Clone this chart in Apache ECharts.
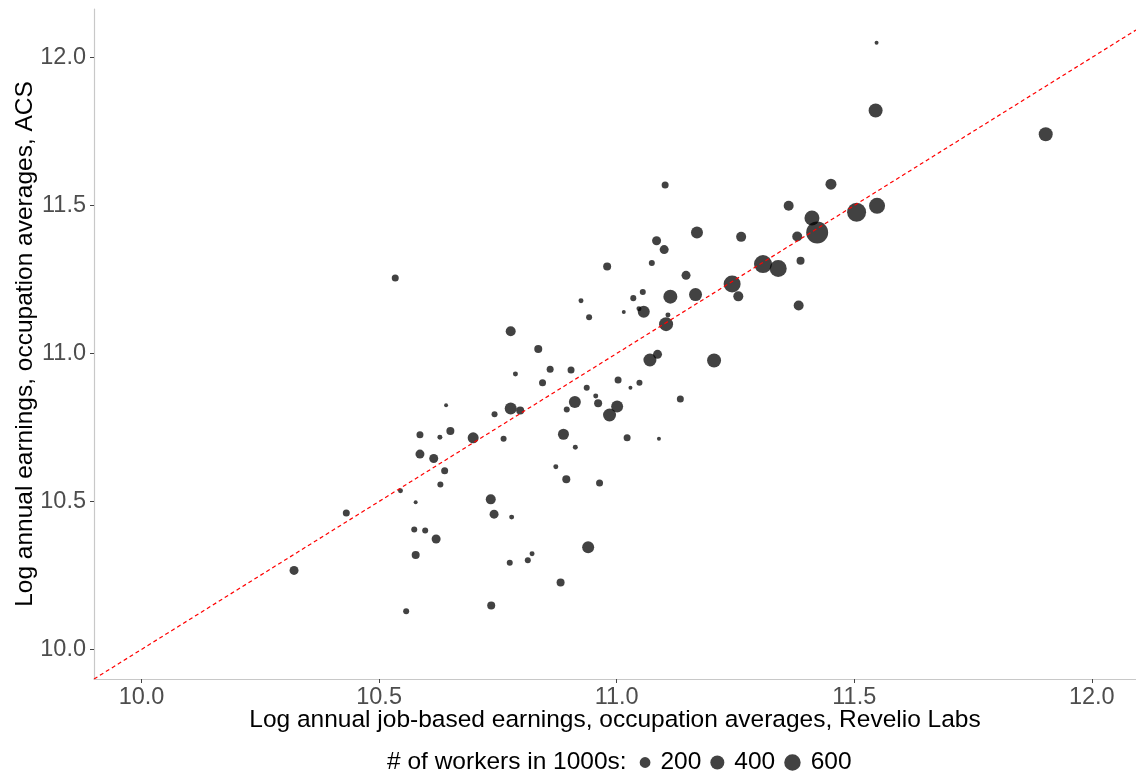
<!DOCTYPE html>
<html>
<head>
<meta charset="utf-8">
<script src="https://cdn.jsdelivr.net/npm/echarts@6/dist/echarts.min.js"></script>
<style>
html,body{margin:0;padding:0;background:#fff;}
#chart{width:1136px;height:777px;}
</style>
</head>
<body>
<div id="chart"></div>
<script>
// Revelio Labs (x), ACS (y), workers in 1000s (size)
const revelio = [11.547,11.545,11.903,11.451,11.362,11.548,11.505,11.411,11.422,11.380,
  11.102,11.169,11.262,11.084,11.100,10.980,11.074,11.387,11.308,11.340,
  11.146,11.243,11.256,11.166,11.113,11.383,11.055,11.035,11.015,11.057,
  11.047,11.108,11.104,10.777,10.835,10.942,10.925,10.787,10.860,10.904,
  10.844,10.937,11.003,10.956,10.961,10.912,10.895,11.001,10.985,10.641,
  10.777,10.797,10.743,10.586,10.628,10.650,10.698,10.762,10.888,11.022,
  10.913,10.586,10.615,10.872,11.086,11.070,11.205,11.048,11.029,11.134,
  11.089,10.534,10.638,10.629,10.545,10.577,10.735,10.742,10.779,10.431,
  10.574,10.597,10.620,10.577,10.822,10.813,10.775,10.321,10.736,10.557,
  10.894,10.964,10.940,10.882];
const acs = [12.050,11.821,11.741,11.572,11.499,11.499,11.477,11.458,11.409,11.395,
  11.569,11.409,11.394,11.381,11.351,11.294,11.306,11.313,11.302,11.287,
  11.264,11.235,11.193,11.199,11.192,11.162,11.208,11.187,11.140,11.141,
  11.151,11.130,11.099,11.075,11.015,11.122,11.178,10.931,10.947,10.944,
  10.901,10.884,10.910,10.856,10.832,10.836,10.811,10.821,10.792,10.825,
  10.814,10.807,10.795,10.725,10.717,10.738,10.715,10.712,10.727,10.715,
  10.683,10.660,10.645,10.617,10.997,10.978,10.976,10.901,10.884,10.846,
  10.712,11.255,10.604,10.557,10.536,10.497,10.507,10.457,10.447,10.461,
  10.405,10.402,10.373,10.319,10.323,10.301,10.293,10.267,10.148,10.129,
  10.575,10.562,10.345,10.226];
const workers = [3,400,400,212,162,559,846,476,1190,162,
  53,268,162,119,119,83,30,83,744,648,
  119,648,162,331,400,162,30,30,3,268,
  13,13,400,162,83,30,13,13,53,53,
  53,30,53,13,83,268,30,268,331,3,
  268,83,30,53,13,83,212,30,212,53,
  13,119,119,13,119,331,400,30,3,53,
  3,53,53,30,13,3,162,119,13,53,
  30,30,119,83,13,30,30,119,83,30,
  83,53,268,83];
const tickValues = [10.0, 10.5, 11.0, 11.5, 12.0];
const legendValues = [200, 400, 600];
const diagonal = [9.9, 12.093];

const pointColor = 'rgba(0,0,0,0.74)';
function sizeOf(v){ return 3 + 0.55*Math.sqrt(v); }

const points = revelio.map((x,i)=>[x, acs[i], workers[i]]);
const lineData = diagonal.map(v=>[v,v]);

const FS_TITLE = 24.5, FS_TICK = 23.5;
const rich = {
  t:{fontSize:FS_TITLE, color:'#000', fontWeight:'normal', fontFamily:'Liberation Sans'},
  ga:{width:10, height:1},
  gb:{width:9, height:1},
  gc:{width:13, height:1}
};
legendValues.forEach((v,i)=>{
  const d = sizeOf(v);
  rich['s'+i] = {width:d, height:d, borderRadius:d/2, backgroundColor:pointColor};
});
const legendText = '{t|# of workers in 1000s:}{gc|}' +
  legendValues.map((v,i)=>'{s'+i+'|}{ga|}{t|'+v+'}{gb|}').join('');

const chart = echarts.init(document.getElementById('chart'));
chart.setOption({
  animation:false,
  backgroundColor:'#fff',
  textStyle:{fontFamily:'Liberation Sans'},
  title:{
    text: legendText,
    left: 382, top: 745,
    textStyle:{rich: rich, fontSize:FS_TITLE, fontWeight:'normal'}
  },
  grid:{left:94, right:0, top:9, bottom:98},
  xAxis:{
    type:'value', min:diagonal[0], max:diagonal[1],
    name:'Log annual job-based earnings, occupation averages, Revelio Labs',
    nameLocation:'middle', nameGap:29, nameMoveOverlap:false,
    nameTextStyle:{fontSize:FS_TITLE, color:'#000'},
    axisLine:{show:true, onZero:false, lineStyle:{color:'#c8c8c8', width:1.2}},
    axisTick:{show:true, length:4, lineStyle:{color:'#444'}, customValues: tickValues},
    axisLabel:{fontSize:FS_TICK, color:'#4d4d4d', margin:7, customValues: tickValues,
      formatter: v=>Number(v).toFixed(1)},
    splitLine:{show:false}
  },
  yAxis:{
    type:'value', min:diagonal[0], max:12.164,
    name:'Log annual earnings, occupation averages, ACS',
    nameLocation:'middle', nameGap:56, nameMoveOverlap:false,
    nameTextStyle:{fontSize:FS_TITLE, color:'#000'},
    axisLine:{show:true, onZero:false, lineStyle:{color:'#c8c8c8', width:1.2}},
    axisTick:{show:true, length:4, lineStyle:{color:'#444'}, customValues: tickValues},
    axisLabel:{fontSize:FS_TICK, color:'#4d4d4d', margin:8, customValues: tickValues,
      formatter: v=>Number(v).toFixed(1)},
    splitLine:{show:false}
  },
  series:[
    {
      type:'scatter',
      data: points,
      symbol:'circle',
      symbolSize: d=>sizeOf(d[2]),
      itemStyle:{color:pointColor, opacity:1},
      z:2
    },
    {
      type:'line',
      data: lineData,
      symbol:'none',
      clip:true,
      lineStyle:{color:'#ff0000', width:1.2, type:[4,3]},
      z:3
    }
  ]
});
</script>
</body>
</html>
